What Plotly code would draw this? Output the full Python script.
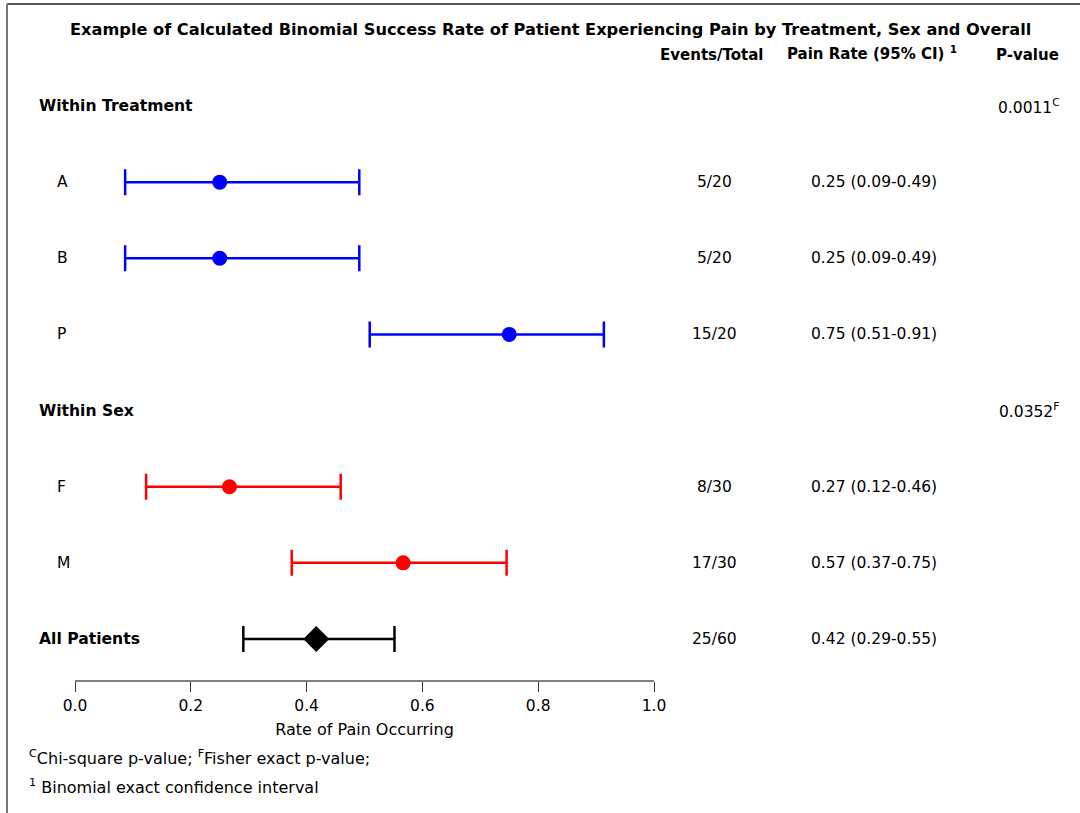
import plotly.graph_objects as go

# ---- data ----
row_labels = ["Within Treatment", "A", "B", "P", "Within Sex", "F", "M", "All Patients"]
header_rows = ["Within Treatment", "Within Sex", "All Patients"]
p_values = {"Within Treatment": ("0.0011", "C"), "Within Sex": ("0.0352", "F")}

items = ["A", "B", "P", "F", "M", "All Patients"]
events = [5, 5, 15, 8, 17, 25]
totals = [20, 20, 20, 30, 30, 60]
rates = [0.25, 0.25, 0.75, 0.2667, 0.5667, 0.4167]
ci_low = [0.0866, 0.0866, 0.5090, 0.1228, 0.3743, 0.2907]
ci_high = [0.4910, 0.4910, 0.9134, 0.4589, 0.7454, 0.5518]
rate_text = ["0.25 (0.09-0.49)", "0.25 (0.09-0.49)", "0.75 (0.51-0.91)",
             "0.27 (0.12-0.46)", "0.57 (0.37-0.75)", "0.42 (0.29-0.55)"]
item_colors = ["#0000FF", "#0000FF", "#0000FF", "#FF0000", "#FF0000", "#000000"]
item_symbols = ["circle", "circle", "circle", "circle", "circle", "diamond"]

x_ticks = [0.0, 0.2, 0.4, 0.6, 0.8, 1.0]
x_tick_text = ["0.0", "0.2", "0.4", "0.6", "0.8", "1.0"]

W, H = 1080, 813
FONT = "DejaVu Sans"
FS = 15.5      # body text
FSB = 15       # bold column headers
FSR = 15.6     # bold row headers

def px(x):
    return x / W

def py(y):
    return 1 - y / H

row_index = {lab: i for i, lab in enumerate(row_labels)}

fig = go.Figure()
for i, it in enumerate(items):
    y = row_index[it]
    fig.add_trace(go.Scatter(
        x=[rates[i]], y=[y], mode="markers",
        marker=dict(color=item_colors[i], symbol=item_symbols[i],
                    size=15 if item_symbols[i] == "circle" else 20),
        error_x=dict(type="data", symmetric=False,
                     array=[ci_high[i] - rates[i]], arrayminus=[rates[i] - ci_low[i]],
                     color=item_colors[i], thickness=2.5, width=13),
        showlegend=False, hoverinfo="skip"))

ann = []
# title and headers
ann.append(dict(x=px(550), y=py(30), xref="paper", yref="paper", showarrow=False,
                text="<b>Example of Calculated Binomial Success Rate of Patient Experiencing Pain by Treatment, Sex and Overall</b>",
                font=dict(family=FONT, size=16.2, color="black"), xanchor="center", yanchor="middle"))
ann.append(dict(x=px(711), y=py(55), xref="paper", yref="paper", showarrow=False,
                text="<b>Events/Total</b>", font=dict(family=FONT, size=FSB, color="black"),
                xanchor="center", yanchor="middle"))
ann.append(dict(x=px(872), y=py(53), xref="paper", yref="paper", showarrow=False,
                text="<b>Pain Rate (95% CI) <sup>1</sup></b>", font=dict(family=FONT, size=FSB, color="black"),
                xanchor="center", yanchor="middle"))
ann.append(dict(x=px(1027), y=py(55), xref="paper", yref="paper", showarrow=False,
                text="<b>P-value</b>", font=dict(family=FONT, size=FSB, color="black"),
                xanchor="center", yanchor="middle"))

# row labels
for lab in row_labels:
    y = row_index[lab]
    if lab in header_rows:
        ann.append(dict(x=px(37), y=y, xref="paper", yref="y", showarrow=False,
                        text=f"<b>{lab}</b>", font=dict(family=FONT, size=FSR, color="black"),
                        xanchor="left", yanchor="middle"))
    else:
        ann.append(dict(x=px(55), y=y, xref="paper", yref="y", showarrow=False,
                        text=lab, font=dict(family=FONT, size=FS, color="black"),
                        xanchor="left", yanchor="middle"))
    if lab in p_values:
        v, s = p_values[lab]
        ann.append(dict(x=px(1062), y=y, xref="paper", yref="y", showarrow=False,
                        text=f"{v}<sup>{s}</sup>", font=dict(family=FONT, size=FS, color="black"),
                        xanchor="right", yanchor="middle"))

for i, it in enumerate(items):
    y = row_index[it]
    ann.append(dict(x=px(714), y=y, xref="paper", yref="y", showarrow=False,
                    text=f"{events[i]}/{totals[i]}", font=dict(family=FONT, size=FS, color="black"),
                    xanchor="center", yanchor="middle"))
    ann.append(dict(x=px(874), y=y, xref="paper", yref="y", showarrow=False,
                    text=rate_text[i], font=dict(family=FONT, size=FS, color="black"),
                    xanchor="center", yanchor="middle"))

# footnotes
ann.append(dict(x=px(27), y=py(757), xref="paper", yref="paper", showarrow=False,
                text="<sup>C</sup>Chi-square p-value; <sup>F</sup>Fisher exact p-value;",
                font=dict(family=FONT, size=16, color="black"), xanchor="left", yanchor="middle"))
ann.append(dict(x=px(27), y=py(786), xref="paper", yref="paper", showarrow=False,
                text="<sup>1</sup> Binomial exact confidence interval",
                font=dict(family=FONT, size=16, color="black"), xanchor="left", yanchor="middle"))

shapes = [
    dict(type="line", xref="paper", yref="paper", x0=px(7), x1=1, y0=py(4), y1=py(4),
         line=dict(color="#555555", width=2)),
    dict(type="line", xref="paper", yref="paper", x0=px(7), x1=px(7), y0=py(4), y1=0,
         line=dict(color="#777777", width=2)),
]

axis_px = 680
top_px = 80
row0_px, step = 106, 76.14
r_bottom = (axis_px - row0_px) / step
r_top = (top_px - row0_px) / step

fig.update_layout(
    width=W, height=H, margin=dict(l=0, r=0, t=0, b=0, autoexpand=False),
    paper_bgcolor="white", plot_bgcolor="white",
    annotations=ann, shapes=shapes, showlegend=False,
    xaxis=dict(domain=[px(75), px(654)], range=[0, 1], tickvals=x_ticks, ticktext=x_tick_text,
               showgrid=False, zeroline=False, showline=True, linecolor="#808080", linewidth=2,
               ticks="outside", ticklen=10, tickcolor="#333333", tickwidth=1, automargin=False,
               tickfont=dict(family=FONT, size=15.5, color="black"),
               title=dict(text="Rate of Pain Occurring", font=dict(family=FONT, size=16, color="black"),
                          standoff=10)),
    yaxis=dict(domain=[py(axis_px), py(top_px)], range=[r_bottom, r_top], automargin=False,
               showgrid=False, zeroline=False, showline=False, showticklabels=False, ticks=""),
)

fig.write_html("out.html")
